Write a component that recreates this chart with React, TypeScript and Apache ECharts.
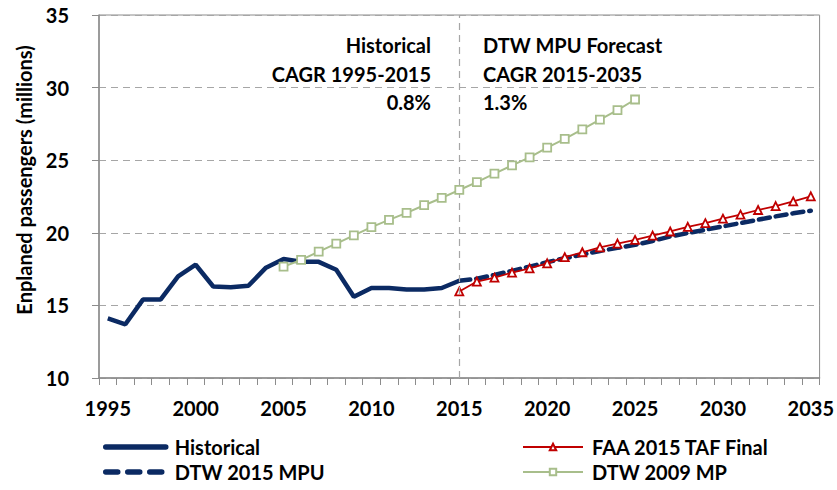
import React, { useEffect, useRef } from "react";
import * as echarts from "echarts";

const years: string[] = [
  "1995","1996","1997","1998","1999","2000","2001","2002","2003","2004",
  "2005","2006","2007","2008","2009","2010","2011","2012","2013","2014",
  "2015","2016","2017","2018","2019","2020","2021","2022","2023","2024",
  "2025","2026","2027","2028","2029","2030","2031","2032","2033","2034","2035",
];

// Historical 1995-2015
const historical: number[] = [
  14.1, 13.7, 15.4, 15.4, 17.0, 17.8, 16.3, 16.25, 16.35, 17.6,
  18.2, 18.0, 18.0, 17.45, 15.6, 16.2, 16.2, 16.1, 16.1, 16.2, 16.7,
];
// FAA 2015 TAF Final 2015-2035
const faaTaf: number[] = [
  15.96, 16.64, 16.91, 17.26, 17.55, 17.9, 18.32, 18.66, 18.99, 19.26,
  19.51, 19.81, 20.09, 20.41, 20.66, 20.97, 21.25, 21.57, 21.84, 22.16, 22.51,
];
// DTW 2015 MPU 2015-2035
const dtwMpu: number[] = [
  16.7, 16.84, 17.1, 17.38, 17.67, 17.97, 18.25, 18.5, 18.75, 18.96,
  19.17, 19.44, 19.75, 19.98, 20.21, 20.44, 20.67, 20.9, 21.13, 21.34, 21.52,
];
// DTW 2009 MP 2005-2025
const dtw2009: number[] = [
  17.67, 18.13, 18.7, 19.25, 19.82, 20.39, 20.89, 21.37, 21.9, 22.4,
  22.95, 23.49, 24.07, 24.64, 25.2, 25.87, 26.47, 27.12, 27.79, 28.45, 29.18,
];

const yTicks = { min: 10, max: 35, interval: 5 };
const dividerYear = "2015";
const leftNote: string[] = ["Historical", "CAGR 1995-2015", "0.8%"];
const rightNote: string[] = ["DTW MPU Forecast", "CAGR 2015-2035", "1.3%"];
const yTitle = "Enplaned passengers (millions)";

const NAVY = "#0B2A63";
const RED = "#C00000";
const GREEN = "#A8BE8B";
const GRID_GRAY = "#A6A6A6";
const AXIS_GRAY = "#8C8C8C";
const FONT = "Lato, 'Open Sans', sans-serif";
const FS = 20;

function place(start: string, vals: number[]): (number | null)[] {
  const idx = years.indexOf(start);
  return years.map((_, i) => (i >= idx && i - idx < vals.length ? vals[i - idx] : null));
}

export default function App() {
  const ref = useRef<HTMLDivElement>(null);
  useEffect(() => {
    if (!ref.current) return;
    const chart = echarts.init(ref.current, undefined, { renderer: "svg" });
    const textStyle = { fontFamily: FONT, fontWeight: "bold" as const, fontSize: FS, color: "#000" };
    const note = (align: string, y: number, t: string, x: number) => ({
      type: "text",
      x,
      y,
      style: { text: t, fill: "#000", font: `bold ${FS}px ${FONT}`, textAlign: align, textVerticalAlign: "middle" },
    });
    const hideSymbol = { color: "transparent", borderColor: "transparent", borderWidth: 0 };
    const legend = (item: any, left: number, centerY: number) => ({
      data: [item],
      left,
      top: centerY - 12,
      itemWidth: 60,
      itemHeight: 8,
      padding: 0,
      textStyle: { ...textStyle, padding: [0, 0, 0, 4] },
    });
    const option: any = {
      animation: false,
      backgroundColor: "#fff",
      grid: { left: 99, right: 17, top: 15, bottom: 112, show: true, borderColor: AXIS_GRAY, borderWidth: 1, backgroundColor: "transparent" },
      xAxis: {
        type: "category",
        data: years,
        boundaryGap: true,
        axisLine: { lineStyle: { color: AXIS_GRAY, width: 1.5 } },
        axisTick: { show: true, interval: 0, length: 7, lineStyle: { color: AXIS_GRAY } },
        axisLabel: { interval: 4, margin: 20, ...textStyle },
        splitLine: { show: false },
      },
      yAxis: {
        type: "value",
        min: yTicks.min,
        max: yTicks.max,
        interval: yTicks.interval,
        axisLine: { show: true, lineStyle: { color: AXIS_GRAY, width: 1.5 } },
        axisTick: { show: true, length: 7, lineStyle: { color: AXIS_GRAY } },
        axisLabel: { margin: 30, ...textStyle },
        splitLine: { show: true, lineStyle: { color: GRID_GRAY, type: [7, 5], width: 1.2 } },
      },
      legend: [
        legend({ name: "Historical", itemStyle: hideSymbol, lineStyle: { width: 5.5, cap: "round" } }, 103, 449),
        legend(
          { name: "DTW 2015 MPU", itemStyle: hideSymbol, lineStyle: { width: 5.5, type: [12, 10], cap: "round" } },
          103,
          474
        ),
        legend({ name: "FAA 2015 TAF Final", lineStyle: { width: 2 } }, 522, 449),
        legend({ name: "DTW 2009 MP", lineStyle: { width: 2 } }, 522, 474),
      ],
      graphic: [
        {
          type: "text",
          x: 24,
          y: 180,
          rotation: Math.PI / 2,
          style: { text: yTitle, fill: "#000", font: `bold ${FS}px ${FONT}`, textAlign: "center", textVerticalAlign: "middle" },
        },
        note("right", 45, leftNote[0], 431),
        note("right", 74, leftNote[1], 431),
        note("right", 102, leftNote[2], 431),
        note("left", 45, rightNote[0], 483),
        note("left", 74, rightNote[1], 483),
        note("left", 102, rightNote[2], 483),
      ],
      series: [
        {
          name: "Historical",
          type: "line",
          data: place("1995", historical),
          symbol: "none",
          lineStyle: { color: NAVY, width: 4.5 },
          itemStyle: { color: NAVY },
          z: 2,
          markLine: {
            silent: true,
            symbol: "none",
            label: { show: false },
            lineStyle: { color: GRID_GRAY, type: [7, 5], width: 1.2 },
            data: [{ xAxis: dividerYear }],
          },
        },
        {
          name: "DTW 2015 MPU",
          type: "line",
          data: place("2015", dtwMpu),
          symbol: "none",
          lineStyle: { color: NAVY, width: 4.5, type: [11, 6], cap: "round" },
          itemStyle: { color: NAVY },
          z: 3,
        },
        {
          name: "FAA 2015 TAF Final",
          type: "line",
          data: place("2015", faaTaf),
          symbol: "triangle",
          symbolSize: 8,
          showAllSymbol: true,
          lineStyle: { color: RED, width: 1.8 },
          itemStyle: { color: "#fff", borderColor: RED, borderWidth: 1.8 },
          z: 4,
        },
        {
          name: "DTW 2009 MP",
          type: "line",
          data: place("2005", dtw2009),
          symbol: "rect",
          symbolSize: 8,
          showAllSymbol: true,
          lineStyle: { color: GREEN, width: 2 },
          itemStyle: { color: "#fff", borderColor: GREEN, borderWidth: 1.8 },
          z: 5,
        },
      ],
    };
    chart.setOption(option);
    return () => chart.dispose();
  }, []);
  return (
    <div
      ref={ref}
      style={{ position: "fixed", left: 0, top: 0, width: 837, height: 490, background: "#fff" }}
    />
  );
}
